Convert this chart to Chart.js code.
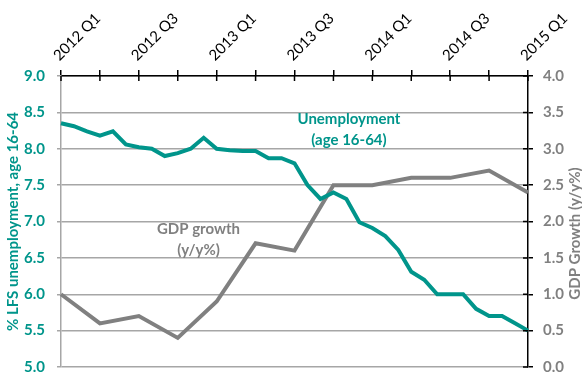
<!DOCTYPE html>
<html>
<head>
<meta charset="utf-8">
<script src="https://cdn.jsdelivr.net/npm/chart.js@4.4.1/dist/chart.umd.min.js"></script>
<style>
    html, body { margin: 0; padding: 0; background: #fff; }
    #wrap { width: 582px; height: 388px; }
</style>
</head>
<body>
<div id="wrap"><canvas id="chart"></canvas></div>
<script>
/* data */
const months = []
for (const y of [2012, 2013, 2014]) {
    for (let m = 1; m <= 12; m++) months.push(y + "-" + String(m).padStart(2, "0"))
}
months.push("2015-01")

const quarters = ["2012 Q1", "2012 Q2", "2012 Q3", "2012 Q4", "2013 Q1", "2013 Q2", "2013 Q3",
    "2013 Q4", "2014 Q1", "2014 Q2", "2014 Q3", "2014 Q4", "2015 Q1"]

const unemployment = [8.35, 8.31, 8.24, 8.18, 8.24, 8.06, 8.02, 8.00, 7.90, 7.94, 8.00, 8.15,
    8.00, 7.98, 7.97, 7.97, 7.87, 7.87, 7.80, 7.50, 7.31, 7.40, 7.31, 6.99,
    6.91, 6.80, 6.61, 6.31, 6.20, 6.00, 6.00, 6.00, 5.80, 5.70, 5.70, 5.60, 5.50]

const gdpGrowth = [1.0, 0.6, 0.7, 0.4, 0.9, 1.7, 1.6, 2.5, 2.5, 2.6, 2.6, 2.7, 2.4]

const TEAL = "#00958b"
const GREY = "#808080"
const FONT = "Lato, 'Open Sans', sans-serif"


/* extra bits: rotated quarter labels, inner half of the tick crosses, notes and the right title */
const decorations = {
    id: "decorations",
    afterDraw(chart) {
        const ctx = chart.ctx
        const { x, y, y2 } = chart.scales
        const area = chart.chartArea
        ctx.save()
        ctx.strokeStyle = "#000"
        ctx.lineWidth = 1.5
        ctx.beginPath()
        for (let i = 0; i < months.length; i += 3) {
            const px = x.getPixelForValue(i)
            ctx.moveTo(px, area.top)
            ctx.lineTo(px, area.top + 5)
        }
        for (let v = 0; v <= 4; v += 0.5) {
            const py = y2.getPixelForValue(v)
            ctx.moveTo(area.right - 5, py)
            ctx.lineTo(area.right, py)
        }
        ctx.stroke()

        // quarter labels, every second quarter
        ctx.font = "15px " + FONT
        ctx.fillStyle = "#000"
        ctx.textAlign = "left"
        ctx.textBaseline = "middle"
        for (let i = 0; i < months.length; i += 6) {
            ctx.save()
            ctx.translate(x.getPixelForValue(i) - 5, area.top - 18)
            ctx.rotate(-Math.PI / 4)
            ctx.fillText(quarters[i / 3], 0, 0)
            ctx.restore()
        }

        ctx.textAlign = "center"
        ctx.font = "bold 15px " + FONT
        const notes = [
            { lines: ["Unemployment", "(age 16-64)"], at: 22.2, value: 8.41, color: TEAL },
            { lines: ["GDP growth", "(y/y%)"], at: 10.6, value: 6.90, color: GREY }
        ]
        for (const note of notes) {
            ctx.fillStyle = note.color
            note.lines.forEach((line, k) => {
                ctx.fillText(line, x.getPixelForValue(note.at), y.getPixelForValue(note.value) + k * 21.5)
            })
        }

        ctx.translate(575, (area.top + area.bottom) / 2 + 12)
        ctx.rotate(-Math.PI / 2)
        ctx.fillStyle = GREY
        ctx.fillText("GDP Growth (y/y%)", 0, 0)
        ctx.restore()
    }
}


const data = {
    labels: months,
    datasets: [{
        label: "Unemployment",
        data: unemployment,
        borderColor: TEAL,
        borderWidth: 4,
        pointRadius: 0,
        tension: 0,
        yAxisID: "y"
    }, {
        label: "GDP growth",
        data: gdpGrowth.map((v, i) => ({ x: months[i * 3], y: v })),
        borderColor: GREY,
        borderWidth: 4,
        pointRadius: 0,
        tension: 0,
        yAxisID: "y2"
    }]
}

const config = {
    type: "line",
    data: data,
    plugins: [decorations],
    options: {
        responsive: true,
        maintainAspectRatio: false,
        animation: false,
        layout: { padding: { top: 0, left: 0, right: 0, bottom: 14 } },
        plugins: { legend: { display: false }, tooltip: { enabled: false } },
        scales: {
            x: {
                position: "top",
                offset: false,
                grid: {
                    drawOnChartArea: false,
                    color: c => c.index % 3 === 0 ? "#000" : "transparent",
                    lineWidth: 1.5,
                    tickLength: 6
                },
                border: { color: "#000", width: 1.5 },
                ticks: { display: false, autoSkip: false },
                afterFit: s => { s.height = 76 }
            },
            y: {
                position: "left",
                min: 5,
                max: 9,
                grid: { color: "#a6a6a6", lineWidth: 1.5, tickLength: 4 },
                border: { color: "#a6a6a6", width: 1.5 },
                ticks: {
                    stepSize: 0.5,
                    padding: 12,
                    color: TEAL,
                    font: { family: FONT, size: 15, weight: "bold" },
                    callback: v => v.toFixed(1)
                },
                title: {
                    display: true,
                    text: "% LFS unemployment, age 16-64",
                    color: TEAL,
                    font: { family: FONT, size: 15, weight: "bold" },
                    padding: { top: 4, bottom: 0 }
                },
                afterFit: s => { s.width = 61 }
            },
            y2: {
                position: "right",
                min: 0,
                max: 4,
                grid: { drawOnChartArea: false, color: "#000", lineWidth: 1.5, tickLength: 5 },
                border: { color: "#000", width: 1.5 },
                ticks: {
                    stepSize: 0.5,
                    padding: 10,
                    color: GREY,
                    font: { family: FONT, size: 15, weight: "bold" },
                    callback: v => v.toFixed(1)
                },
                afterFit: s => { s.width = 54 }
            }
        }
    }
}

new Chart(document.querySelector("#chart"), config)
</script>
</body>
</html>
